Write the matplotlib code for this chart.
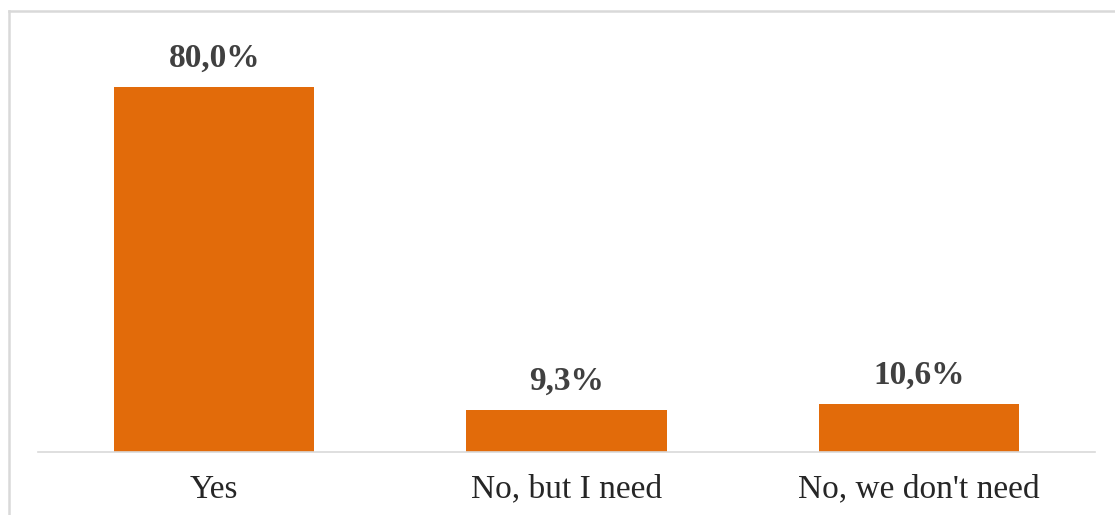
import matplotlib
matplotlib.use("Agg")
import matplotlib.pyplot as plt
from matplotlib.lines import Line2D

# survey answers and shares (%)
categories = ["Yes", "No, but I need", "No, we don't need"]
shares = [80.0, 9.3, 10.6]
share_labels = ["80,0%", "9,3%", "10,6%"]

plt.rcParams['font.family'] = ['Liberation Serif', 'DejaVu Serif']

fig = plt.figure(figsize=(11.15, 5.15), dpi=100)
ax = fig.add_axes([0.0341, 0.1223, 0.948, 0.798])

x = range(len(categories))
bars = ax.bar(x, shares, width=0.569, color='#E26B0A')

for b, lab in zip(bars, share_labels):
    ax.annotate(lab, (b.get_x() + b.get_width() / 2, b.get_height()),
                xytext=(0, 9), textcoords='offset points',
                ha='center', va='bottom', fontsize=24, fontweight='bold',
                color='#404040')

ax.set_xlim(-0.5, 2.5)
ax.set_ylim(0, 90)
ax.set_yticks([])
ax.set_xticks(list(x))
ax.set_xticklabels(categories, fontsize=24, color='#262626')
ax.tick_params(axis='x', length=0, pad=16)
for s in ['top', 'left', 'right']:
    ax.spines[s].set_visible(False)
ax.spines['bottom'].set_color('#d9d9d9')
ax.spines['bottom'].set_linewidth(1.2)

# light frame around chart area (top and left edges visible)
fig.add_artist(Line2D([0.0085, 1.0], [0.978, 0.978], color='#d9d9d9', lw=1.8,
                      transform=fig.transFigure))
fig.add_artist(Line2D([0.0085, 0.0085], [0.0, 0.978], color='#d9d9d9', lw=1.8,
                      transform=fig.transFigure))

fig.savefig("out.png", dpi=100)
